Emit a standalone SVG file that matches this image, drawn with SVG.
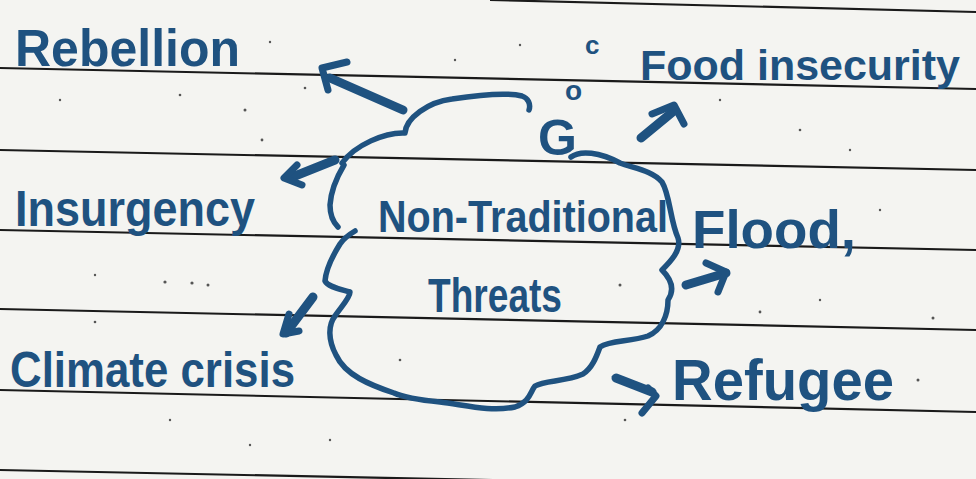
<svg xmlns="http://www.w3.org/2000/svg" width="976" height="479" viewBox="0 0 976 479">
<style>
.paper{fill:#f4f4f1}
.rule{stroke:#1a1a1a;stroke-width:2.2;fill:none}
.ink{fill:none;stroke:#1f5280;stroke-width:5.5;stroke-linecap:round;stroke-linejoin:round}
.arrow{fill:none;stroke:#1f5280;stroke-width:9;stroke-linecap:round;stroke-linejoin:round}
.head{fill:none;stroke:#1f5280;stroke-width:7;stroke-linecap:round;stroke-linejoin:round}
.lbl{font-family:"Liberation Sans",Arial,sans-serif;font-weight:bold;fill:#1f5280}
.dot{fill:#555}
</style>
<rect class="paper" x="0" y="0" width="976" height="479"/>
<g id="paper-lines">
<line class="rule" x1="490" y1="0" x2="976" y2="12"/>
<line class="rule" x1="0" y1="68" x2="976" y2="89"/>
<line class="rule" x1="0" y1="150" x2="976" y2="170"/>
<line class="rule" x1="0" y1="230" x2="976" y2="250"/>
<line class="rule" x1="0" y1="309" x2="976" y2="330"/>
<line class="rule" x1="0" y1="390" x2="976" y2="412"/>
<line class="rule" x1="0" y1="470" x2="976" y2="490"/>
</g>
<g id="speckles">
<circle class="dot" cx="60" cy="100" r="1.2"/><circle class="dot" cx="180" cy="95" r="1.3"/>
<circle class="dot" cx="245" cy="110" r="1.5"/><circle class="dot" cx="270" cy="42" r="1.2"/>
<circle class="dot" cx="305" cy="88" r="1.3"/><circle class="dot" cx="262" cy="140" r="1.4"/>
<circle class="dot" cx="95" cy="275" r="1.2"/><circle class="dot" cx="165" cy="282" r="1.6"/>
<circle class="dot" cx="192" cy="283" r="1.6"/><circle class="dot" cx="208" cy="285" r="1.5"/>
<circle class="dot" cx="95" cy="322" r="1.3"/><circle class="dot" cx="170" cy="420" r="1.2"/>
<circle class="dot" cx="250" cy="445" r="1.2"/><circle class="dot" cx="330" cy="440" r="1.2"/>
<circle class="dot" cx="625" cy="420" r="1.3"/><circle class="dot" cx="760" cy="312" r="1.4"/>
<circle class="dot" cx="820" cy="300" r="1.2"/><circle class="dot" cx="933" cy="318" r="1.5"/>
<circle class="dot" cx="918" cy="380" r="1.5"/><circle class="dot" cx="720" cy="100" r="1.2"/>
<circle class="dot" cx="800" cy="130" r="1.3"/><circle class="dot" cx="850" cy="150" r="1.2"/>
<circle class="dot" cx="880" cy="210" r="1.2"/><circle class="dot" cx="620" cy="285" r="1.5"/>
<circle class="dot" cx="455" cy="60" r="1.2"/><circle class="dot" cx="520" cy="45" r="1.2"/>
<circle class="dot" cx="400" cy="360" r="1.3"/><circle class="dot" cx="580" cy="205" r="1.2"/>
</g>
<g id="node-center">
<path class="ink" d="M342,163 C355,145 385,132 405,133 C406,118 428,102 452,99 C478,95 506,92 522,96 C528,98 531,104 529,110"/>
<path class="ink" d="M571,157 C580,150 600,152 620,163 C632,168 652,170 662,182 C670,195 670,220 678,238 C682,250 670,262 662,270 C670,278 676,288 668,300 C668,315 662,330 648,336 C630,342 610,340 600,347 C596,358 592,368 583,374 C565,382 545,380 535,386 C530,392 530,402 515,407 C490,412 465,405 440,402 C420,400 405,398 394,393 C370,385 345,375 336,355 C328,340 328,325 335,316 C340,308 350,298 350,292 C340,289 328,287 325,281 C326,268 335,252 340,244 C344,238 350,234 355,231"/>
<path class="ink" d="M344,165 C338,175 331,190 330,205 C330,215 333,222 338,227"/>
<text class="lbl" x="378" y="232" font-size="44" textLength="290" lengthAdjust="spacingAndGlyphs">Non-Traditional</text>
<text class="lbl" x="428" y="312" font-size="48" textLength="134" lengthAdjust="spacingAndGlyphs">Threats</text>
<text class="lbl" x="585" y="54" font-size="26">c</text>
<text class="lbl" x="565" y="100" font-size="28">o</text>
<text class="lbl" x="538" y="155" font-size="50">G</text>
</g>
<g id="node-rebellion"><text class="lbl" x="15" y="66" font-size="52" textLength="225" lengthAdjust="spacingAndGlyphs">Rebellion</text></g>
<g id="node-food"><text class="lbl" x="640" y="80" font-size="43" textLength="320" lengthAdjust="spacingAndGlyphs">Food insecurity</text></g>
<g id="node-insurgency"><text class="lbl" x="15" y="226" font-size="50" textLength="240" lengthAdjust="spacingAndGlyphs">Insurgency</text></g>
<g id="node-flood"><text class="lbl" x="692" y="248" font-size="54" textLength="164" lengthAdjust="spacingAndGlyphs">Flood,</text></g>
<g id="node-climate"><text class="lbl" x="10" y="387" font-size="50" textLength="285" lengthAdjust="spacingAndGlyphs">Climate crisis</text></g>
<g id="node-refugee"><text class="lbl" x="672" y="400" font-size="58" textLength="222" lengthAdjust="spacingAndGlyphs">Refugee</text></g>
<g id="connectors">
<path class="arrow" d="M403,110 L330,78"/>
<path class="head" d="M347,62 L322,68 L328,90"/>
<path class="arrow" d="M335,160 L290,178"/>
<path class="head" d="M297,165 L284,178 L302,185"/>
<path class="arrow" d="M641,138 L675,110"/>
<path class="head" d="M652,114 L674,105 L684,124"/>
<path class="arrow" d="M313,297 L286,333"/>
<path class="head" d="M289,314 L283,334 L299,331"/>
<path class="arrow" d="M686,285 L726,273"/>
<path class="head" d="M706,263 L726,272 L718,292"/>
<path class="arrow" d="M616,378 L652,392"/>
<path class="head" d="M648,388 L656,396 L642,413"/>
</g>
</svg>
